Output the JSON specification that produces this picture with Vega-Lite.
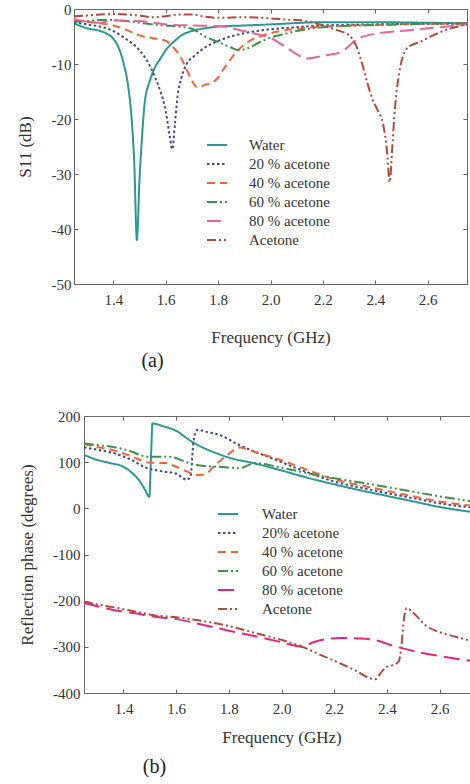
{
  "$schema": "https://vega.github.io/schema/vega-lite/v6.json",
  "padding": {"left": 16, "top": 2, "right": 0, "bottom": 0},
  "background": "white",
  "datasets": {
    "s11": [
      {"f":1.25,"v":-2.6,"s":"Water"},{"f":1.3,"v":-3.5,"s":"Water"},{"f":1.35,"v":-4.0,"s":"Water"},{"f":1.38,"v":-4.6,"s":"Water"},{"f":1.40,"v":-5.4,"s":"Water"},{"f":1.42,"v":-7,"s":"Water"},{"f":1.44,"v":-10,"s":"Water"},{"f":1.455,"v":-13.5,"s":"Water"},{"f":1.47,"v":-20,"s":"Water"},{"f":1.48,"v":-28,"s":"Water"},{"f":1.49,"v":-42,"s":"Water"},{"f":1.50,"v":-31,"s":"Water"},{"f":1.51,"v":-23,"s":"Water"},{"f":1.52,"v":-17,"s":"Water"},{"f":1.54,"v":-13,"s":"Water"},{"f":1.56,"v":-10.5,"s":"Water"},{"f":1.58,"v":-9,"s":"Water"},{"f":1.60,"v":-7.5,"s":"Water"},{"f":1.63,"v":-6,"s":"Water"},{"f":1.66,"v":-4.8,"s":"Water"},{"f":1.70,"v":-4.0,"s":"Water"},{"f":1.75,"v":-3.5,"s":"Water"},{"f":1.8,"v":-3.2,"s":"Water"},{"f":1.9,"v":-3.0,"s":"Water"},{"f":2.0,"v":-2.8,"s":"Water"},{"f":2.2,"v":-2.4,"s":"Water"},{"f":2.4,"v":-2.4,"s":"Water"},{"f":2.6,"v":-2.5,"s":"Water"},{"f":2.75,"v":-2.6,"s":"Water"},

      {"f":1.25,"v":-2.4,"s":"20 % acetone"},{"f":1.3,"v":-2.8,"s":"20 % acetone"},{"f":1.35,"v":-3.2,"s":"20 % acetone"},{"f":1.4,"v":-4,"s":"20 % acetone"},{"f":1.45,"v":-5.5,"s":"20 % acetone"},{"f":1.5,"v":-7.5,"s":"20 % acetone"},{"f":1.53,"v":-9.5,"s":"20 % acetone"},{"f":1.56,"v":-12.5,"s":"20 % acetone"},{"f":1.58,"v":-15,"s":"20 % acetone"},{"f":1.60,"v":-18.5,"s":"20 % acetone"},{"f":1.615,"v":-23,"s":"20 % acetone"},{"f":1.625,"v":-25.5,"s":"20 % acetone"},{"f":1.635,"v":-21,"s":"20 % acetone"},{"f":1.645,"v":-16,"s":"20 % acetone"},{"f":1.66,"v":-12.5,"s":"20 % acetone"},{"f":1.68,"v":-10,"s":"20 % acetone"},{"f":1.71,"v":-8.5,"s":"20 % acetone"},{"f":1.75,"v":-7,"s":"20 % acetone"},{"f":1.8,"v":-5.8,"s":"20 % acetone"},{"f":1.9,"v":-4.4,"s":"20 % acetone"},{"f":2.0,"v":-3.7,"s":"20 % acetone"},{"f":2.1,"v":-3.3,"s":"20 % acetone"},{"f":2.2,"v":-3.0,"s":"20 % acetone"},{"f":2.4,"v":-2.8,"s":"20 % acetone"},{"f":2.6,"v":-2.7,"s":"20 % acetone"},{"f":2.75,"v":-2.7,"s":"20 % acetone"},

      {"f":1.25,"v":-2.0,"s":"40 % acetone"},{"f":1.3,"v":-2.3,"s":"40 % acetone"},{"f":1.35,"v":-2.6,"s":"40 % acetone"},{"f":1.4,"v":-3.0,"s":"40 % acetone"},{"f":1.45,"v":-3.8,"s":"40 % acetone"},{"f":1.5,"v":-4.8,"s":"40 % acetone"},{"f":1.55,"v":-5.3,"s":"40 % acetone"},{"f":1.6,"v":-5.8,"s":"40 % acetone"},{"f":1.63,"v":-7,"s":"40 % acetone"},{"f":1.66,"v":-9,"s":"40 % acetone"},{"f":1.68,"v":-11,"s":"40 % acetone"},{"f":1.70,"v":-13,"s":"40 % acetone"},{"f":1.72,"v":-14.2,"s":"40 % acetone"},{"f":1.75,"v":-13.8,"s":"40 % acetone"},{"f":1.78,"v":-13.3,"s":"40 % acetone"},{"f":1.8,"v":-12.5,"s":"40 % acetone"},{"f":1.82,"v":-11,"s":"40 % acetone"},{"f":1.85,"v":-9,"s":"40 % acetone"},{"f":1.88,"v":-7.3,"s":"40 % acetone"},{"f":1.92,"v":-5.8,"s":"40 % acetone"},{"f":1.96,"v":-5,"s":"40 % acetone"},{"f":2.0,"v":-4.4,"s":"40 % acetone"},{"f":2.1,"v":-3.6,"s":"40 % acetone"},{"f":2.2,"v":-3.2,"s":"40 % acetone"},{"f":2.4,"v":-2.9,"s":"40 % acetone"},{"f":2.6,"v":-2.7,"s":"40 % acetone"},{"f":2.75,"v":-2.6,"s":"40 % acetone"},

      {"f":1.25,"v":-2.3,"s":"60 % acetone"},{"f":1.3,"v":-2.2,"s":"60 % acetone"},{"f":1.35,"v":-2.0,"s":"60 % acetone"},{"f":1.4,"v":-2.0,"s":"60 % acetone"},{"f":1.45,"v":-2.2,"s":"60 % acetone"},{"f":1.5,"v":-2.5,"s":"60 % acetone"},{"f":1.55,"v":-2.8,"s":"60 % acetone"},{"f":1.6,"v":-3.0,"s":"60 % acetone"},{"f":1.65,"v":-3.2,"s":"60 % acetone"},{"f":1.7,"v":-3.6,"s":"60 % acetone"},{"f":1.75,"v":-5.0,"s":"60 % acetone"},{"f":1.8,"v":-6.0,"s":"60 % acetone"},{"f":1.85,"v":-7.0,"s":"60 % acetone"},{"f":1.88,"v":-7.5,"s":"60 % acetone"},{"f":1.92,"v":-7.0,"s":"60 % acetone"},{"f":1.96,"v":-6.0,"s":"60 % acetone"},{"f":2.0,"v":-5.2,"s":"60 % acetone"},{"f":2.05,"v":-4.6,"s":"60 % acetone"},{"f":2.1,"v":-4.0,"s":"60 % acetone"},{"f":2.2,"v":-3.3,"s":"60 % acetone"},{"f":2.4,"v":-2.9,"s":"60 % acetone"},{"f":2.6,"v":-2.7,"s":"60 % acetone"},{"f":2.75,"v":-2.6,"s":"60 % acetone"},

      {"f":1.25,"v":-1.8,"s":"80 % acetone"},{"f":1.3,"v":-2.3,"s":"80 % acetone"},{"f":1.35,"v":-2.5,"s":"80 % acetone"},{"f":1.4,"v":-2.1,"s":"80 % acetone"},{"f":1.5,"v":-2.2,"s":"80 % acetone"},{"f":1.6,"v":-2.8,"s":"80 % acetone"},{"f":1.7,"v":-3.0,"s":"80 % acetone"},{"f":1.8,"v":-3.1,"s":"80 % acetone"},{"f":1.88,"v":-3.8,"s":"80 % acetone"},{"f":1.95,"v":-4.6,"s":"80 % acetone"},{"f":2.01,"v":-5.5,"s":"80 % acetone"},{"f":2.07,"v":-7.3,"s":"80 % acetone"},{"f":2.14,"v":-9,"s":"80 % acetone"},{"f":2.2,"v":-8.5,"s":"80 % acetone"},{"f":2.27,"v":-7.8,"s":"80 % acetone"},{"f":2.33,"v":-5.5,"s":"80 % acetone"},{"f":2.4,"v":-4.5,"s":"80 % acetone"},{"f":2.52,"v":-3.9,"s":"80 % acetone"},{"f":2.65,"v":-3.3,"s":"80 % acetone"},{"f":2.75,"v":-2.8,"s":"80 % acetone"},

      {"f":1.25,"v":-1.3,"s":"Acetone"},{"f":1.3,"v":-1.2,"s":"Acetone"},{"f":1.35,"v":-1.0,"s":"Acetone"},{"f":1.4,"v":-0.9,"s":"Acetone"},{"f":1.45,"v":-1.0,"s":"Acetone"},{"f":1.5,"v":-1.2,"s":"Acetone"},{"f":1.55,"v":-1.5,"s":"Acetone"},{"f":1.6,"v":-1.3,"s":"Acetone"},{"f":1.65,"v":-1.0,"s":"Acetone"},{"f":1.7,"v":-1.0,"s":"Acetone"},{"f":1.75,"v":-1.4,"s":"Acetone"},{"f":1.8,"v":-1.6,"s":"Acetone"},{"f":1.9,"v":-1.5,"s":"Acetone"},{"f":2.0,"v":-1.7,"s":"Acetone"},{"f":2.05,"v":-1.9,"s":"Acetone"},{"f":2.1,"v":-2.0,"s":"Acetone"},{"f":2.15,"v":-2.3,"s":"Acetone"},{"f":2.2,"v":-3.0,"s":"Acetone"},{"f":2.25,"v":-3.8,"s":"Acetone"},{"f":2.3,"v":-4.8,"s":"Acetone"},{"f":2.33,"v":-7,"s":"Acetone"},{"f":2.35,"v":-10,"s":"Acetone"},{"f":2.37,"v":-13.5,"s":"Acetone"},{"f":2.39,"v":-16.5,"s":"Acetone"},{"f":2.41,"v":-18.5,"s":"Acetone"},{"f":2.43,"v":-21,"s":"Acetone"},{"f":2.445,"v":-26,"s":"Acetone"},{"f":2.455,"v":-31.5,"s":"Acetone"},{"f":2.465,"v":-25,"s":"Acetone"},{"f":2.475,"v":-18,"s":"Acetone"},{"f":2.49,"v":-12,"s":"Acetone"},{"f":2.51,"v":-8,"s":"Acetone"},{"f":2.53,"v":-6.8,"s":"Acetone"},{"f":2.57,"v":-6.0,"s":"Acetone"},{"f":2.62,"v":-4.8,"s":"Acetone"},{"f":2.67,"v":-3.8,"s":"Acetone"},{"f":2.75,"v":-2.8,"s":"Acetone"}
    ],
    "phase": [
      {"f":1.25,"v":116,"s":"Water"},{"f":1.3,"v":105,"s":"Water"},{"f":1.35,"v":98,"s":"Water"},{"f":1.4,"v":90,"s":"Water"},{"f":1.43,"v":78,"s":"Water"},{"f":1.46,"v":60,"s":"Water"},{"f":1.48,"v":42,"s":"Water"},{"f":1.498,"v":25,"s":"Water"},{"f":1.505,"v":120,"s":"Water"},{"f":1.51,"v":184,"s":"Water"},{"f":1.55,"v":178,"s":"Water"},{"f":1.6,"v":168,"s":"Water"},{"f":1.65,"v":148,"s":"Water"},{"f":1.7,"v":132,"s":"Water"},{"f":1.75,"v":120,"s":"Water"},{"f":1.8,"v":110,"s":"Water"},{"f":1.9,"v":97,"s":"Water"},{"f":2.0,"v":82,"s":"Water"},{"f":2.1,"v":66,"s":"Water"},{"f":2.2,"v":52,"s":"Water"},{"f":2.3,"v":39,"s":"Water"},{"f":2.4,"v":27,"s":"Water"},{"f":2.5,"v":15,"s":"Water"},{"f":2.6,"v":3,"s":"Water"},{"f":2.75,"v":-10,"s":"Water"},

      {"f":1.25,"v":132,"s":"20% acetone"},{"f":1.3,"v":127,"s":"20% acetone"},{"f":1.36,"v":120,"s":"20% acetone"},{"f":1.43,"v":105,"s":"20% acetone"},{"f":1.49,"v":87,"s":"20% acetone"},{"f":1.55,"v":80,"s":"20% acetone"},{"f":1.6,"v":75,"s":"20% acetone"},{"f":1.64,"v":62,"s":"20% acetone"},{"f":1.655,"v":70,"s":"20% acetone"},{"f":1.665,"v":140,"s":"20% acetone"},{"f":1.68,"v":170,"s":"20% acetone"},{"f":1.72,"v":165,"s":"20% acetone"},{"f":1.76,"v":160,"s":"20% acetone"},{"f":1.84,"v":137,"s":"20% acetone"},{"f":1.96,"v":109,"s":"20% acetone"},{"f":2.09,"v":80,"s":"20% acetone"},{"f":2.2,"v":58,"s":"20% acetone"},{"f":2.3,"v":45,"s":"20% acetone"},{"f":2.4,"v":33,"s":"20% acetone"},{"f":2.5,"v":22,"s":"20% acetone"},{"f":2.6,"v":11,"s":"20% acetone"},{"f":2.75,"v":0,"s":"20% acetone"},

      {"f":1.25,"v":139,"s":"40 % acetone"},{"f":1.3,"v":133,"s":"40 % acetone"},{"f":1.36,"v":126,"s":"40 % acetone"},{"f":1.42,"v":115,"s":"40 % acetone"},{"f":1.5,"v":99,"s":"40 % acetone"},{"f":1.56,"v":98,"s":"40 % acetone"},{"f":1.6,"v":90,"s":"40 % acetone"},{"f":1.64,"v":80,"s":"40 % acetone"},{"f":1.68,"v":72,"s":"40 % acetone"},{"f":1.71,"v":74,"s":"40 % acetone"},{"f":1.75,"v":95,"s":"40 % acetone"},{"f":1.8,"v":118,"s":"40 % acetone"},{"f":1.84,"v":132,"s":"40 % acetone"},{"f":1.9,"v":122,"s":"40 % acetone"},{"f":2.0,"v":104,"s":"40 % acetone"},{"f":2.1,"v":83,"s":"40 % acetone"},{"f":2.2,"v":63,"s":"40 % acetone"},{"f":2.3,"v":50,"s":"40 % acetone"},{"f":2.4,"v":38,"s":"40 % acetone"},{"f":2.5,"v":26,"s":"40 % acetone"},{"f":2.6,"v":15,"s":"40 % acetone"},{"f":2.75,"v":4,"s":"40 % acetone"},

      {"f":1.25,"v":141,"s":"60 % acetone"},{"f":1.3,"v":137,"s":"60 % acetone"},{"f":1.36,"v":133,"s":"60 % acetone"},{"f":1.42,"v":125,"s":"60 % acetone"},{"f":1.49,"v":112,"s":"60 % acetone"},{"f":1.57,"v":112,"s":"60 % acetone"},{"f":1.65,"v":98,"s":"60 % acetone"},{"f":1.7,"v":92,"s":"60 % acetone"},{"f":1.76,"v":90,"s":"60 % acetone"},{"f":1.84,"v":87,"s":"60 % acetone"},{"f":1.9,"v":98,"s":"60 % acetone"},{"f":2.0,"v":88,"s":"60 % acetone"},{"f":2.1,"v":76,"s":"60 % acetone"},{"f":2.2,"v":65,"s":"60 % acetone"},{"f":2.3,"v":56,"s":"60 % acetone"},{"f":2.4,"v":46,"s":"60 % acetone"},{"f":2.5,"v":36,"s":"60 % acetone"},{"f":2.6,"v":26,"s":"60 % acetone"},{"f":2.75,"v":13,"s":"60 % acetone"},

      {"f":1.25,"v":-205,"s":"80 % acetone"},{"f":1.3,"v":-212,"s":"80 % acetone"},{"f":1.36,"v":-220,"s":"80 % acetone"},{"f":1.45,"v":-228,"s":"80 % acetone"},{"f":1.52,"v":-235,"s":"80 % acetone"},{"f":1.6,"v":-240,"s":"80 % acetone"},{"f":1.7,"v":-252,"s":"80 % acetone"},{"f":1.8,"v":-265,"s":"80 % acetone"},{"f":1.9,"v":-277,"s":"80 % acetone"},{"f":2.0,"v":-290,"s":"80 % acetone"},{"f":2.08,"v":-300,"s":"80 % acetone"},{"f":2.12,"v":-290,"s":"80 % acetone"},{"f":2.16,"v":-284,"s":"80 % acetone"},{"f":2.22,"v":-281,"s":"80 % acetone"},{"f":2.3,"v":-282,"s":"80 % acetone"},{"f":2.36,"v":-286,"s":"80 % acetone"},{"f":2.42,"v":-297,"s":"80 % acetone"},{"f":2.5,"v":-309,"s":"80 % acetone"},{"f":2.6,"v":-320,"s":"80 % acetone"},{"f":2.75,"v":-333,"s":"80 % acetone"},

      {"f":1.25,"v":-202,"s":"Acetone"},{"f":1.3,"v":-208,"s":"Acetone"},{"f":1.36,"v":-214,"s":"Acetone"},{"f":1.45,"v":-224,"s":"Acetone"},{"f":1.52,"v":-232,"s":"Acetone"},{"f":1.6,"v":-236,"s":"Acetone"},{"f":1.71,"v":-245,"s":"Acetone"},{"f":1.8,"v":-255,"s":"Acetone"},{"f":1.9,"v":-270,"s":"Acetone"},{"f":2.0,"v":-285,"s":"Acetone"},{"f":2.08,"v":-300,"s":"Acetone"},{"f":2.15,"v":-318,"s":"Acetone"},{"f":2.22,"v":-335,"s":"Acetone"},{"f":2.29,"v":-354,"s":"Acetone"},{"f":2.335,"v":-368,"s":"Acetone"},{"f":2.357,"v":-370,"s":"Acetone"},{"f":2.375,"v":-358,"s":"Acetone"},{"f":2.395,"v":-345,"s":"Acetone"},{"f":2.42,"v":-340,"s":"Acetone"},{"f":2.445,"v":-332,"s":"Acetone"},{"f":2.455,"v":-300,"s":"Acetone"},{"f":2.465,"v":-240,"s":"Acetone"},{"f":2.475,"v":-216,"s":"Acetone"},{"f":2.5,"v":-226,"s":"Acetone"},{"f":2.55,"v":-255,"s":"Acetone"},{"f":2.6,"v":-268,"s":"Acetone"},{"f":2.66,"v":-278,"s":"Acetone"},{"f":2.75,"v":-292,"s":"Acetone"}
    ]
  },
  "columns": 1,
  "concat": [
    {
      "width": 393,
      "height": 275,
      "data": {"name": "s11"},
      "title": {"text": "(a)", "orient": "bottom", "anchor": "middle", "frame": "group", "dx": -118, "offset": 6, "fontSize": 20, "font": "Liberation Serif", "fontWeight": "normal", "color": "#222"},
      "layer": [
        {
          "mark": {"type": "line", "strokeWidth": 2, "interpolate": "monotone"},
          "encoding": {
            "x": {"field": "f", "type": "quantitative", "scale": {"domain": [1.25, 2.75], "nice": false, "zero": false}, "axis": {"title": "Frequency (GHz)", "values": [1.4, 1.6, 1.8, 2.0, 2.2, 2.4, 2.6], "format": ".1f", "labelPadding": 12, "titlePadding": 22}},
            "y": {"field": "v", "type": "quantitative", "scale": {"domain": [-50, 0], "nice": false}, "axis": {"title": "S11 (dB)", "values": [0, -10, -20, -30, -40, -50], "labelExpr": "'' + datum.value", "titlePadding": 17}},
            "color": {"field": "s", "type": "nominal",
              "scale": {"domain": ["Water", "20 % acetone", "40 % acetone", "60 % acetone", "80 % acetone", "Acetone"], "range": ["#2b9892", "#434a86", "#f0643c", "#3f8f4f", "#e8649b", "#b14a3c"]},
              "legend": {"title": null, "orient": "none", "legendX": 132, "legendY": 125, "symbolType": "stroke", "symbolSize": 400, "symbolStrokeWidth": 2, "labelFont": "Liberation Serif", "labelFontSize": 15, "labelColor": "#333", "labelOffset": 21, "rowPadding": -1.4, "padding": 0}},
            "strokeDash": {"field": "s", "type": "nominal",
              "scale": {"domain": ["Water", "20 % acetone", "40 % acetone", "60 % acetone", "80 % acetone", "Acetone"], "range": [[1, 0], [2.5, 2.5], [8, 5], [10, 3, 2, 3, 2, 3], [14, 6], [9, 3, 2, 3, 2, 3]]},
              "legend": {"title": null, "orient": "none", "legendX": 132, "legendY": 125, "symbolType": "stroke", "symbolSize": 400, "symbolStrokeWidth": 2, "labelFont": "Liberation Serif", "labelFontSize": 15, "labelColor": "#333", "labelOffset": 21, "rowPadding": -1.4, "padding": 0}}
          }
        },
        {
          "mark": {"type": "point", "opacity": 0},
          "encoding": {
            "x": {"field": "f", "type": "quantitative", "scale": {"domain": [1.25, 2.75], "nice": false, "zero": false}, "axis": {"orient": "top", "title": null, "labels": false, "values": [1.4, 1.6, 1.8, 2.0, 2.2, 2.4, 2.6]}},
            "y": {"field": "v", "type": "quantitative", "scale": {"domain": [-50, 0], "nice": false}, "axis": {"orient": "right", "title": null, "labels": false, "values": [0, -10, -20, -30, -40, -50]}}
          }
        }
      ],
      "resolve": {"axis": {"x": "independent", "y": "independent"}}
    },
    {
      "width": 405,
      "height": 277,
      "data": {"name": "phase"},
      "title": {"text": "(b)", "orient": "bottom", "anchor": "middle", "frame": "group", "dx": -122, "offset": 12, "fontSize": 20, "font": "Liberation Serif", "fontWeight": "normal", "color": "#222"},
      "layer": [
        {
          "mark": {"type": "line", "strokeWidth": 2, "interpolate": "monotone"},
          "encoding": {
            "x": {"field": "f", "type": "quantitative", "scale": {"domain": [1.25, 2.75], "range": [10, 405], "nice": false, "zero": false}, "axis": {"title": "Frequency (GHz)", "values": [1.4, 1.6, 1.8, 2.0, 2.2, 2.4, 2.6], "format": ".1f", "labelPadding": 12, "titlePadding": 13}},
            "y": {"field": "v", "type": "quantitative", "scale": {"domain": [-400, 200], "nice": false}, "axis": {"title": "Reflection phase (degrees)", "values": [200, 100, 0, -100, -200, -300, -400], "labelExpr": "'' + datum.value", "labelPadding": 8, "titlePadding": 16, "offset": -10}},
            "color": {"field": "s", "type": "nominal",
              "scale": {"domain": ["Water", "20% acetone", "40 % acetone", "60 % acetone", "80 % acetone", "Acetone"], "range": ["#2b9892", "#434a86", "#f0643c", "#3f8f4f", "#e3267e", "#b14a3c"]},
              "legend": {"title": null, "orient": "none", "legendX": 143, "legendY": 87, "symbolType": "stroke", "symbolSize": 400, "symbolStrokeWidth": 2, "labelFont": "Liberation Serif", "labelFontSize": 15, "labelColor": "#333", "labelOffset": 23, "rowPadding": -1.2, "padding": 0}},
            "strokeDash": {"field": "s", "type": "nominal",
              "scale": {"domain": ["Water", "20% acetone", "40 % acetone", "60 % acetone", "80 % acetone", "Acetone"], "range": [[1, 0], [2.5, 2.5], [8, 5], [10, 3, 2, 3, 2, 3], [16, 7], [9, 3, 2, 3, 2, 3]]},
              "legend": {"title": null, "orient": "none", "legendX": 143, "legendY": 87, "symbolType": "stroke", "symbolSize": 400, "symbolStrokeWidth": 2, "labelFont": "Liberation Serif", "labelFontSize": 15, "labelColor": "#333", "labelOffset": 23, "rowPadding": -1.2, "padding": 0}}
          }
        },
        {
          "mark": {"type": "point", "opacity": 0},
          "encoding": {
            "x": {"field": "f", "type": "quantitative", "scale": {"domain": [1.25, 2.75], "range": [10, 405], "nice": false, "zero": false}, "axis": {"orient": "top", "title": null, "labels": false, "values": [1.4, 1.6, 1.8, 2.0, 2.2, 2.4, 2.6]}},
            "y": {"field": "v", "type": "quantitative", "scale": {"domain": [-400, 200], "nice": false}, "axis": {"orient": "right", "title": null, "labels": false, "values": [200, 100, 0, -100, -200, -300, -400]}}
          }
        }
      ],
      "resolve": {"axis": {"x": "independent", "y": "independent"}}
    }
  ],
  "spacing": 38,
  "resolve": {"scale": {"color": "independent", "strokeDash": "independent", "x": "independent", "y": "independent"}, "legend": {"color": "independent", "strokeDash": "independent"}},
  "config": {
    "view": {"stroke": null},
    "axis": {"grid": false, "domainColor": "#666", "tickColor": "#666", "tickSize": -4, "labelFont": "Liberation Serif", "labelFontSize": 15, "labelColor": "#333", "titleFont": "Liberation Serif", "titleFontSize": 17, "titleFontWeight": "normal", "titleColor": "#333", "labelPadding": 7},
    "axisY": {"titlePadding": 8}
  }
}
